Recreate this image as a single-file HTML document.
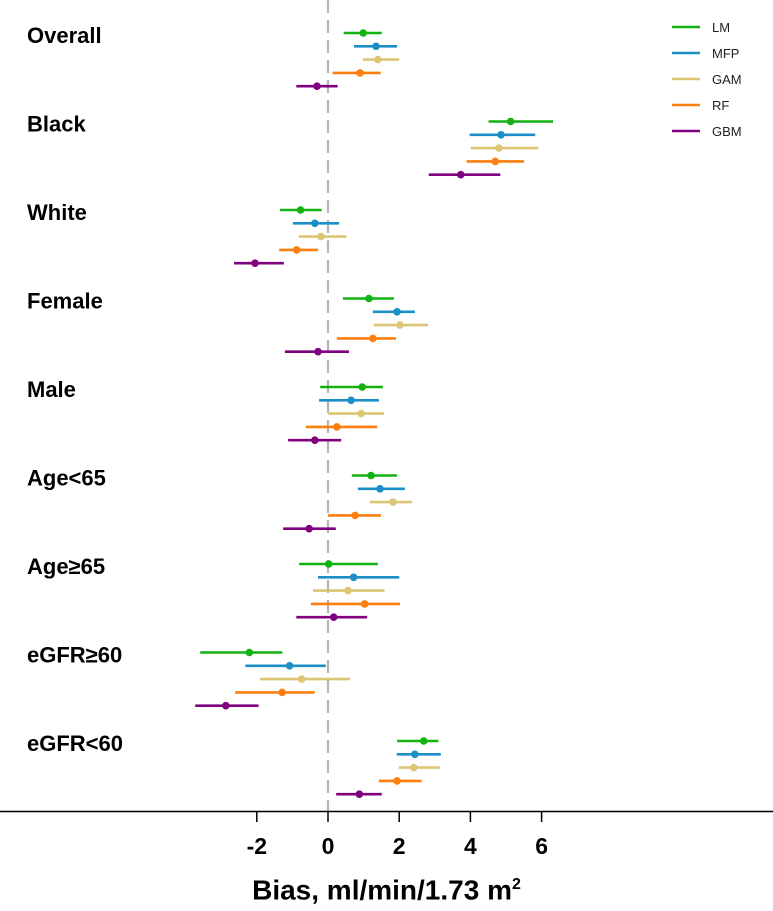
<!DOCTYPE html>
<html><head><meta charset="utf-8"><style>
body{margin:0;background:#fff;font-family:"Liberation Sans",Arial,sans-serif}
svg text{font-family:"Liberation Sans",Arial,sans-serif}
</style></head><body>
<svg id="chart" width="773" height="906" xmlns="http://www.w3.org/2000/svg"></svg>
<script>
const groups=["Overall","Black","White","Female","Male","Age<65","Age≥65","eGFR≥60","eGFR<60"];
const models=["LM","MFP","GAM","RF","GBM"];
const colors=["#11b211","#1b8fc6","#dcc674","#ff7f0e","#800080"];
const est=[[0.99,1.35,1.40,0.90,-0.31],[5.13,4.86,4.80,4.70,3.73],[-0.77,-0.37,-0.20,-0.88,-2.05],[1.15,1.94,2.02,1.26,-0.28],[0.96,0.65,0.93,0.25,-0.37],[1.21,1.46,1.83,0.76,-0.53],[0.02,0.72,0.56,1.03,0.16],[-2.21,-1.08,-0.74,-1.29,-2.87],[2.69,2.44,2.41,1.94,0.88]];
const lower=[[0.44,0.73,0.98,0.13,-0.89],[4.51,3.98,4.01,3.89,2.83],[-1.35,-0.99,-0.82,-1.37,-2.64],[0.42,1.26,1.29,0.25,-1.21],[-0.22,-0.25,0,-0.62,-1.12],[0.67,0.84,1.18,0,-1.26],[-0.81,-0.28,-0.42,-0.48,-0.89],[-3.59,-2.32,-1.91,-2.61,-3.73],[1.94,1.93,1.99,1.43,0.23]];
const upper=[[1.51,1.94,2.0,1.48,0.27],[6.32,5.82,5.91,5.51,4.84],[-0.18,0.31,0.52,-0.28,-1.24],[1.85,2.44,2.81,1.91,0.59],[1.54,1.43,1.57,1.38,0.37],[1.94,2.16,2.36,1.49,0.22],[1.40,2.0,1.59,2.02,1.10],[-1.28,-0.06,0.62,-0.37,-1.95],[3.10,3.17,3.14,2.63,1.51]];
const ticks=[-2,0,2,4,6];
const svg=document.getElementById('chart');
const NS="http://www.w3.org/2000/svg";
function x(v){return 328+v*35.6;}
function y(g,m){return 33+g*88.5+m*13.3;}
function mk(tag,attrs,parent){const e=document.createElementNS(NS,tag);for(const k in attrs)e.setAttribute(k,attrs[k]);(parent||svg).appendChild(e);return e;}
const ref=mk('line',{x1:x(0),x2:x(0),y1:0,y2:811,stroke:'#b5b5b5','stroke-width':2.2,'stroke-dasharray':'13 7'});


groups.forEach((gname,g)=>{
  const t=mk('text',{x:27,y:y(g,0)+10,'font-size':22,'font-weight':'bold',fill:'#000'});
  t.textContent=gname;
  
  
  models.forEach((m,i)=>{
    const gr=mk('g',{});
    
    
    mk('line',{x1:x(lower[g][i]),x2:x(upper[g][i]),y1:y(g,i),y2:y(g,i),stroke:colors[i],'stroke-width':2.6},gr);
    mk('circle',{cx:x(est[g][i]),cy:y(g,i),r:3.8,fill:colors[i]},gr);
  });
});
const ax=mk('line',{x1:0,x2:773,y1:811.5,y2:811.5,stroke:'#000','stroke-width':1.5});


ticks.forEach(v=>{
  mk('line',{x1:x(v),x2:x(v),y1:811,y2:822,stroke:'#000','stroke-width':1.5});
  const t=mk('text',{x:x(v),y:854,'font-size':23,'font-weight':'bold','text-anchor':'middle'});
  t.textContent=v;
  
  
});
models.forEach((m,i)=>{
  const gr=mk('g',{});
  
  
  const ly=27+i*26;
  mk('line',{x1:672,x2:700,y1:ly,y2:ly,stroke:colors[i],'stroke-width':2.5},gr);
  const t=mk('text',{x:712,y:ly+5,'font-size':13,fill:'#222'},gr);
  t.textContent=m;
});
</script>
<div style="position:absolute;left:0;top:868px;width:773px;text-align:center;font-weight:bold;font-size:28px;line-height:34px;">Bias, ml/min/1.73 m<sup style="font-size:16px">2</sup></div>
</body></html>
